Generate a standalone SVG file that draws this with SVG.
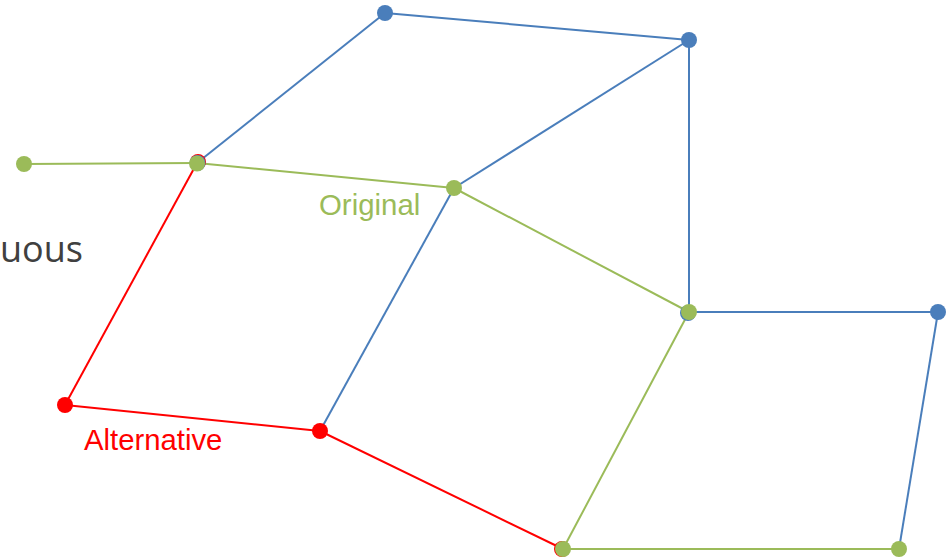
<svg xmlns="http://www.w3.org/2000/svg" width="946" height="558" viewBox="0 0 946 558">
<style>
.b{stroke:#4a7ebb;stroke-width:2;fill:none}
.g{stroke:#9bbb59;stroke-width:2;fill:none}
.r{stroke:#ff0000;stroke-width:2;fill:none}
.nb{fill:#4a7ebb}
.ng{fill:#9bbb59}
.nr{fill:#ff0000}
text{font-family:"Liberation Sans",Arial,sans-serif}
</style>
<rect width="946" height="558" fill="#fff"/>
<text x="0" y="262" font-size="36" fill="#404040" style="font-family:'Open Sans',sans-serif">uous</text>
<g id="connectors">
<line class="b" x1="197" y1="163" x2="385" y2="13"/>
<line class="b" x1="385" y1="13" x2="689" y2="40"/>
<line class="b" x1="689" y1="40" x2="454" y2="188"/>
<line class="b" x1="689" y1="40" x2="689" y2="312"/>
<line class="b" x1="454" y1="188" x2="320" y2="431"/>
<line class="b" x1="689" y1="312" x2="938" y2="312"/>
<line class="b" x1="938" y1="312" x2="899" y2="549"/>
<line class="r" x1="197" y1="163" x2="65" y2="405"/>
<line class="r" x1="65" y1="405" x2="320" y2="431"/>
<line class="r" x1="320" y1="431" x2="563" y2="549"/>
<line class="g" x1="24" y1="164" x2="197" y2="163"/>
<line class="g" x1="197" y1="163" x2="454" y2="188"/>
<line class="g" x1="454" y1="188" x2="689" y2="312"/>
<line class="g" x1="689" y1="312" x2="563" y2="549"/>
<line class="g" x1="563" y1="549" x2="899" y2="549"/>
</g>
<g id="n-b1"><circle class="nb" cx="385" cy="13" r="8"/></g>
<g id="n-b2"><circle class="nb" cx="689" cy="40" r="8"/></g>
<g id="n-b4"><circle class="nb" cx="938" cy="312" r="8"/></g>
<g id="n-r1"><circle class="nr" cx="65" cy="405" r="8"/></g>
<g id="n-r2"><circle class="nr" cx="320" cy="431" r="8"/></g>
<g id="n-g0"><circle class="ng" cx="24" cy="164" r="8"/></g>
<g id="n-1"><circle class="nr" cx="198" cy="162" r="8"/><circle class="nb" cx="197.5" cy="163" r="8"/><circle class="ng" cx="197" cy="163.5" r="8"/></g>
<g id="n-g2"><circle class="ng" cx="454" cy="188" r="8"/></g>
<g id="n-3"><circle class="nb" cx="688" cy="313" r="8"/><circle class="ng" cx="689" cy="312" r="8"/></g>
<g id="n-g5"><circle class="nr" cx="562" cy="549" r="8"/><circle class="ng" cx="563" cy="549" r="8"/></g>
<g id="n-g6"><circle class="ng" cx="899" cy="549" r="8"/></g>
<g id="label-original"><text x="319" y="215" font-size="29.4" fill="#9bbb59">Original</text></g>
<g id="label-alternative"><text x="84" y="450" font-size="29.3" fill="#ff0000">Alternative</text></g>
</svg>
